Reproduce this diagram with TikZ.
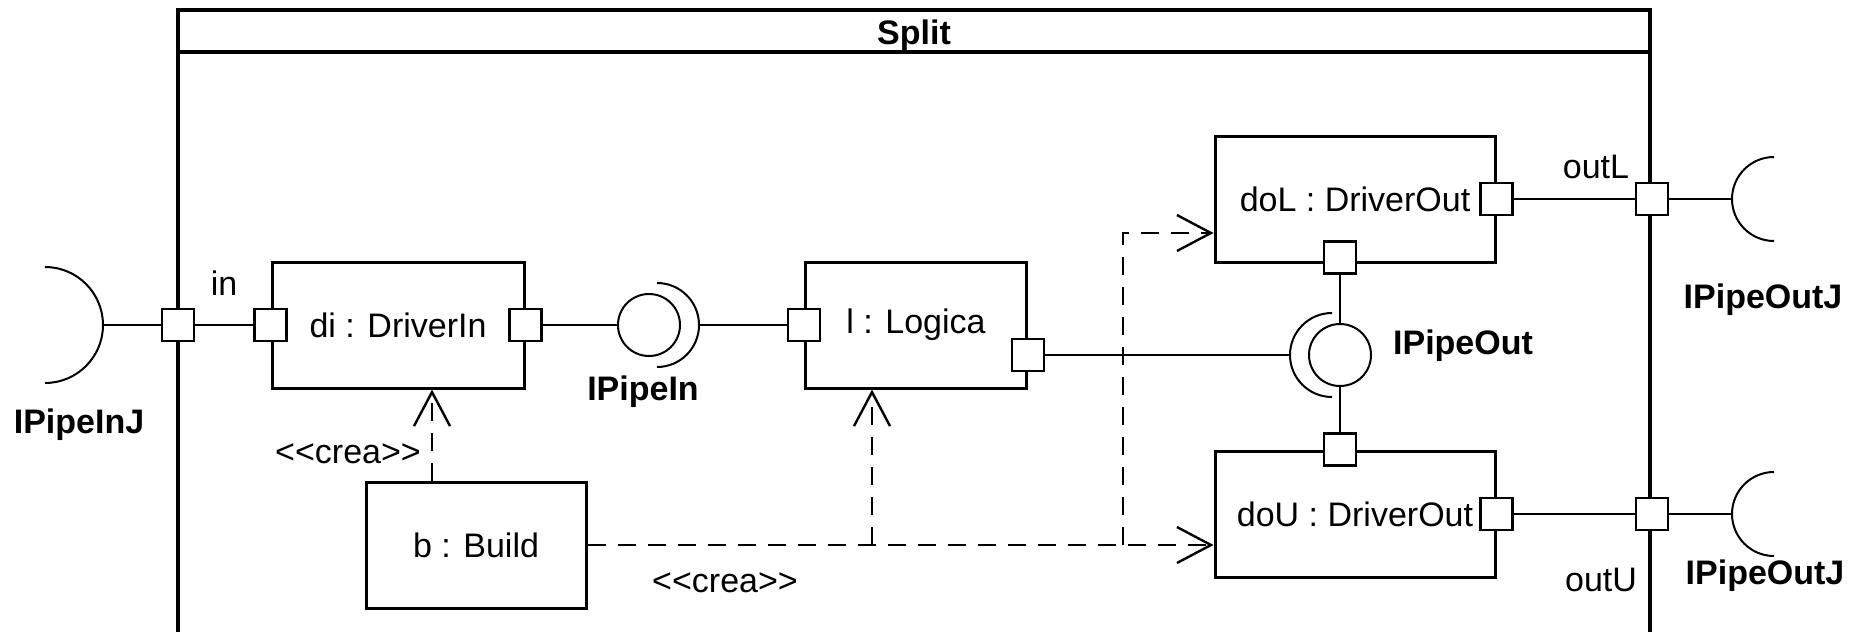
\documentclass[tikz,border=0pt]{standalone}
\usepackage{fontspec}
\setmainfont{Liberation Sans}
\usetikzlibrary{positioning,arrows.meta,calc}
\newcommand{\diafont}{\fontsize{17}{20}\selectfont}
\newcommand{\stereo}[1]{<\kern0pt<#1>\kern0pt>}
\tikzset{
  part/.style={draw,line width=1.5pt,minimum height=63pt,inner sep=0pt,font=\diafont},
  port/.style={draw,fill=white,line width=1.4pt,minimum size=16pt,inner sep=0pt},
  ball/.style={circle,draw,line width=1pt,minimum size=31pt,inner sep=0pt},
  sock/.style={line width=1pt},
  wire/.style={line width=1.2pt},
  crea/.style={dash pattern=on 9pt off 6pt,line width=1.2pt,-{Straight Barb[length=17pt,width=18pt]}},
  lbl/.style={inner sep=0pt,font=\diafont},
  iface/.style={inner sep=0pt,font=\diafont\bfseries},
}

\begin{document}
\begin{tikzpicture}[x=0.5pt,y=0.5pt]
  \useasboundingbox (0,0) rectangle (1863,-632);
  % frame
  \draw[line width=1.6pt] (178,-632) -- (178,-10) -- (1650,-10) -- (1650,-632);
  \draw[line width=1.6pt] (178,-52) -- (1650,-52);
  \node[iface] (split) at (914,-36) {Split};
  % parts
  \node[part,minimum width=126pt] (di) at (398,-325) {di : DriverIn};
  \node[part,minimum width=110.5pt] (l) at (916,-325) {l : Logica};
  \node[part,minimum width=140pt] (doL) at (1355,-199) {doL : DriverOut};
  \node[part,minimum width=140pt] (doU) at (1355,-514) {doU : DriverOut};
  \node[part,minimum width=110pt] (b) at (476,-545) {b : Build};
  % ports
  \node[port] (inP) at (178,-325) {};
  \node[port] (outLP) at (1652,-199) {};
  \node[port] (outUP) at (1652,-514) {};
  \node[port] (diIn) at (di.west) {};
  \node[port] (diOut) at (di.east) {};
  \node[port] (lIn) at (l.west) {};
  \node[port] (lOut) at ([yshift=-15pt]l.east) {};
  \node[port] (doLout) at (doL.east) {};
  \node[port] (doLdn) at ([xshift=-7.5pt,yshift=3pt]doL.south) {};
  \node[port] (doUup) at ([xshift=-7.5pt]doU.north) {};
  \node[port] (doUout) at (doU.east) {};
  % interfaces
  \node[ball] (pin) at (649,-325) {};
  \node[ball] (pout) at (1340,-355) {};
  \coordinate (inJ) at (103,-325);
  \coordinate (pinS) at (699,-325);
  \coordinate (poutS) at (1290,-355);
  \coordinate (outLJ) at (1732,-199);
  \coordinate (outUJ) at (1732,-514);
  \draw[sock] (inJ) arc[start angle=0,end angle=90,radius=29pt] (inJ) arc[start angle=0,end angle=-90,radius=29pt];
  \draw[sock] (pinS) arc[start angle=0,end angle=90,radius=21pt] (pinS) arc[start angle=0,end angle=-90,radius=21pt];
  \draw[sock] (poutS) arc[start angle=180,end angle=90,radius=21pt] (poutS) arc[start angle=180,end angle=270,radius=21pt];
  \draw[sock] (outLJ) arc[start angle=180,end angle=90,radius=21pt] (outLJ) arc[start angle=180,end angle=270,radius=21pt];
  \draw[sock] (outUJ) arc[start angle=180,end angle=90,radius=21pt] (outUJ) arc[start angle=180,end angle=270,radius=21pt];
  % assembly connectors
  \draw[wire] (inJ) -- (inP);
  \draw[wire] (inP) -- (diIn);
  \draw[wire] (diOut) -- (pin);
  \draw[wire] (pinS) -- (lIn);
  \draw[wire] (lOut) -- (poutS);
  \draw[wire] (doLdn) -- (pout);
  \draw[wire] (pout) -- (doUup);
  \draw[wire] (doLout) -- (outLP);
  \draw[wire] (outLP) -- (outLJ);
  \draw[wire] (doUout) -- (outUP);
  \draw[wire] (outUP) -- (outUJ);
  % creation dependencies
  \coordinate (forkl) at (872,-545);
  \coordinate (forkd) at (1123,-545);
  \draw[crea] ([xshift=-22pt]b.north) -- ([xshift=-22pt]b.north |- di.south);
  \draw[crea] (b.east) -- (b.east -| doU.west);
  \draw[crea] (forkl) -- (forkl |- l.south);
  \draw[crea] (forkd) |- ([yshift=-17pt]doL.west);
  % labels
  \node[lbl] (inLbl) at (224,-283) {in};
  \node[lbl] (outLLbl) at (1596,-167) {outL};
  \node[lbl] (outULbl) at (1601,-580) {outU};
  \node[lbl] (creaA) at (348,-454) {\stereo{crea}};
  \node[lbl] (creaB) at (725,-583) {\stereo{crea}};
  \node[iface] (pinJLbl) at (79,-425) {IPipeInJ};
  \node[iface] (pinLbl) at (643,-392) {IPipeIn};
  \node[iface] (poutLbl) at (1463,-346) {IPipeOut};
  \node[iface] (poutJA) at (1763,-300) {IPipeOutJ};
  \node[iface] (poutJB) at (1765,-576) {IPipeOutJ};
\end{tikzpicture}
\end{document}
